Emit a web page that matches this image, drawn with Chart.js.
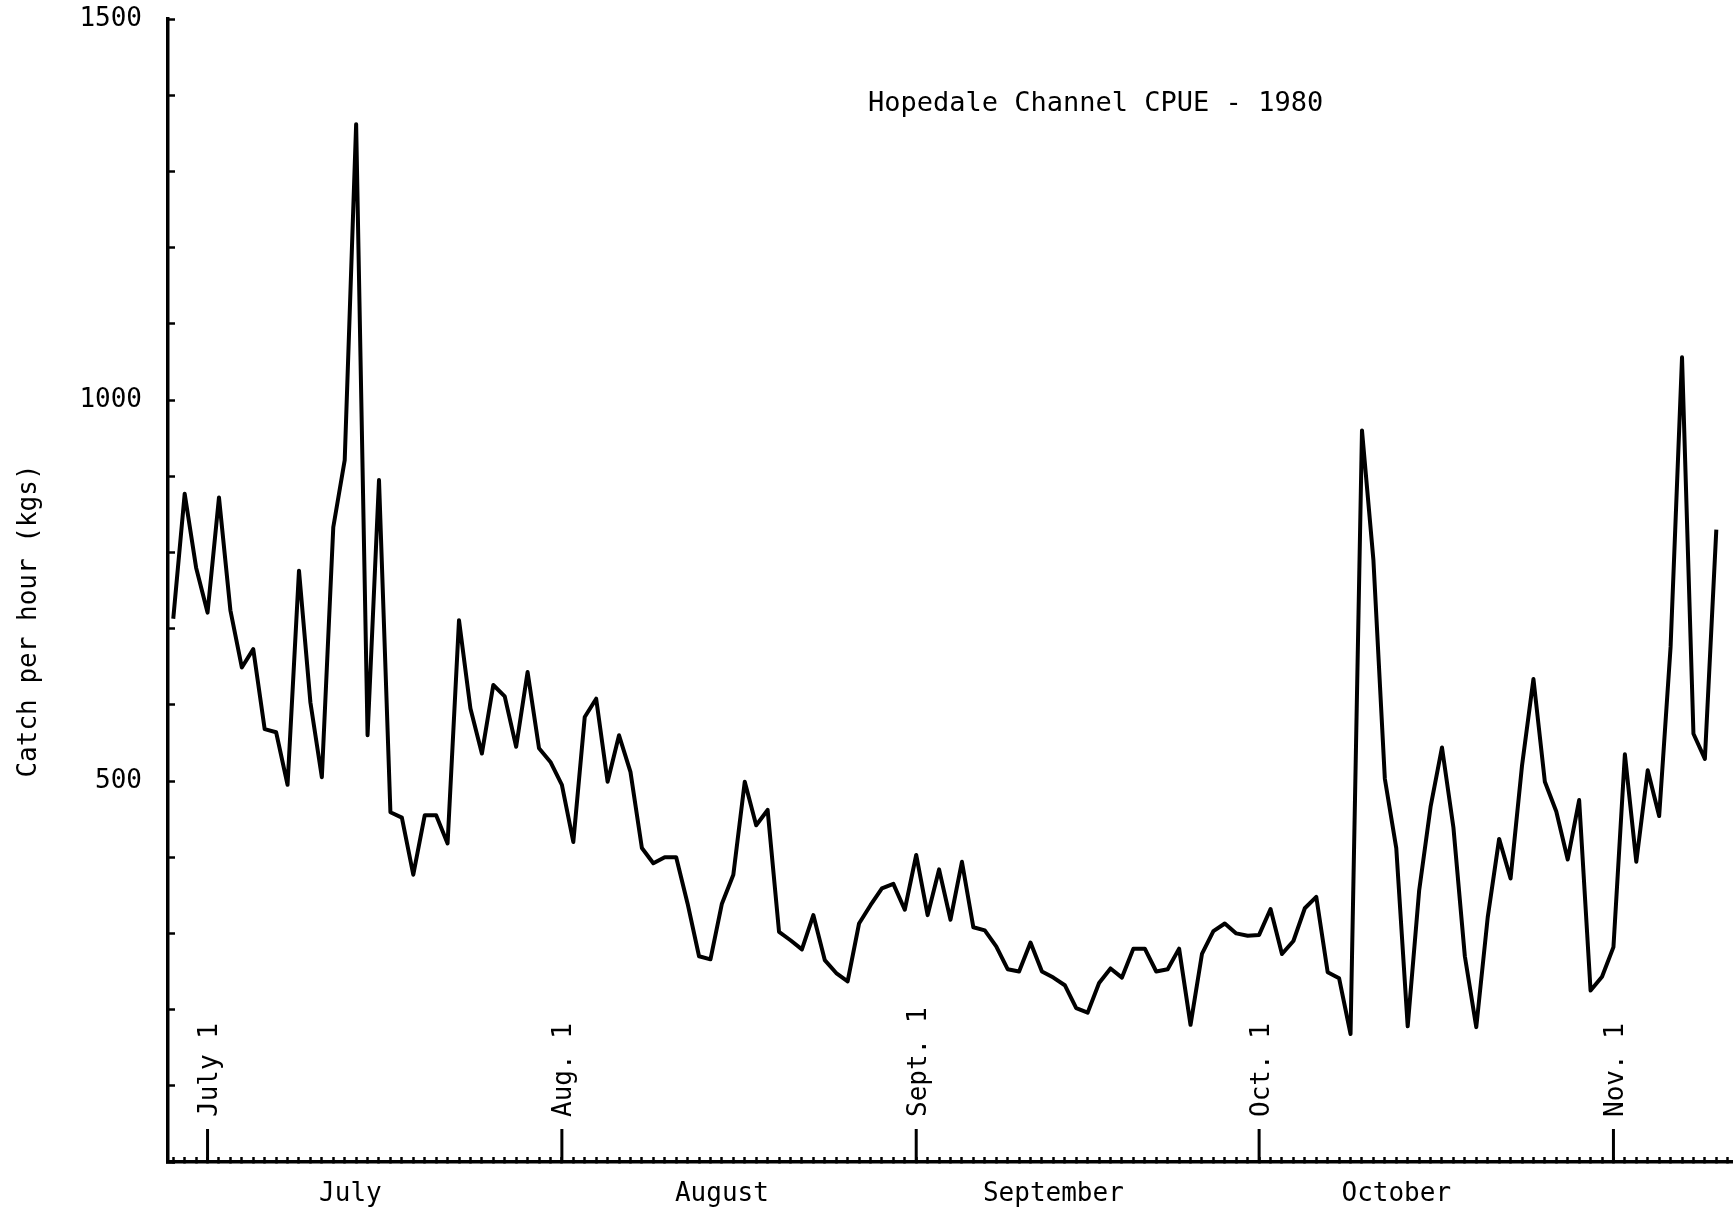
<!DOCTYPE html>
<html>
<head>
<meta charset="utf-8">
<title>Hopedale Channel CPUE - 1980</title>
<script src="https://cdn.jsdelivr.net/npm/chart.js@4.4.1/dist/chart.umd.min.js"></script>
<style>
  html, body { margin: 0; padding: 0; background: #ffffff; }
  #wrap { width: 1733px; height: 1212px; position: relative; }
  canvas { display: block; }
</style>
</head>
<body>
<div id="wrap"><canvas id="cpueChart" width="1733" height="1212"></canvas></div>
<script>
// Daily catch per unit effort (kg per hour), Hopedale Channel, 1980.
// Day numbers count from July 1 (= 0); the series opens on June 28.
const firstDay = -3;
const cpue = [
  713, 877, 780, 721, 872, 724, 649, 673, 568, 564,
  495, 776, 603, 505, 833, 921, 1362, 560, 895, 459,
  452, 377, 455, 455, 418, 711, 595, 536, 626, 611,
  545, 643, 543, 525, 495, 420, 584, 608, 499, 560,
  512, 412, 392, 400, 400, 339, 270, 266, 339, 377,
  499, 442, 462, 302, 291, 279, 324, 265, 248, 237,
  313, 337, 359, 365, 331, 403, 324, 384, 318, 394,
  308, 304, 283, 253, 250, 288, 250, 242, 232, 202,
  196, 235, 254, 242, 280, 280, 250, 253, 280, 180,
  273, 303, 313, 300, 297, 298, 332, 273, 290, 333,
  348, 249, 241, 168, 960, 790, 503, 412, 178, 356,
  466, 544, 439, 270, 177, 321, 424, 372, 520, 634,
  499, 460, 397, 475, 225, 243, 282, 535, 394, 514,
  454, 676, 1056, 562, 529, 830
];
const days = cpue.map((_, i) => firstDay + i);

// Calendar markers along the time axis
const monthStartDays = [0, 31, 62, 92, 123];
const monthStartLabels = ['July 1', 'Aug. 1', 'Sept. 1', 'Oct. 1', 'Nov. 1'];
const monthNameDays = [12.5, 45, 74, 104];
const monthNames = ['July', 'August', 'September', 'October'];

// Value axis
const yLabelValues = [500, 1000, 1500];

const chartTitle = 'Hopedale Channel CPUE - 1980';
const yTitle = 'Catch per hour (kgs)';

const FONT = '"DejaVu Sans Mono", "Liberation Mono", monospace';
const INK = '#000000';

// Month-start markers, the plot caption and the value-axis title
const annotate = {
  id: 'annotate',
  afterDraw(chart) {
    const { ctx, scales: { x, y } } = chart;
    const base = y.getPixelForValue(0);
    ctx.save();
    ctx.fillStyle = INK;
    ctx.strokeStyle = INK;
    ctx.lineWidth = 3;
    ctx.lineCap = 'butt';

    monthStartDays.forEach((d, i) => {
      const px = x.getPixelForValue(d);
      ctx.beginPath();
      ctx.moveTo(px, base);
      ctx.lineTo(px, base - 33);
      ctx.stroke();

      ctx.save();
      ctx.translate(px + 9.5, base - 45);
      ctx.rotate(-Math.PI / 2);
      ctx.font = '26px ' + FONT;
      ctx.textAlign = 'left';
      ctx.textBaseline = 'alphabetic';
      ctx.fillText(monthStartLabels[i], 0, 0);
      ctx.restore();
    });

    ctx.font = '27px ' + FONT;
    ctx.textAlign = 'left';
    ctx.textBaseline = 'alphabetic';
    ctx.fillText(chartTitle, 868, 111);

    ctx.save();
    ctx.translate(36, 621);
    ctx.rotate(-Math.PI / 2);
    ctx.font = '26px ' + FONT;
    ctx.textAlign = 'center';
    ctx.fillText(yTitle, 0, 0);
    ctx.restore();

    ctx.restore();
  }
};

new Chart(document.getElementById('cpueChart'), {
  type: 'line',
  data: {
    datasets: [{
      label: 'CPUE',
      data: days.map((d, i) => ({ x: d, y: cpue[i] })),
      borderColor: INK,
      borderWidth: 4,
      borderJoinStyle: 'round',
      pointRadius: 0,
      tension: 0,
      fill: false
    }]
  },
  options: {
    responsive: false,
    devicePixelRatio: 1,
    animation: false,
    layout: { padding: { top: 19, left: 0, right: 0, bottom: 0 } },
    plugins: {
      legend: { display: false },
      tooltip: { enabled: false },
      title: { display: false }
    },
    scales: {
      x: {
        type: 'linear',
        min: -3.46,
        max: 133.46,
        border: { display: true, color: INK, width: 3.5 },
        grid: {
          drawOnChartArea: false,
          drawTicks: true,
          tickLength: -5,
          tickWidth: 2.5,
          tickColor: (c) => (c.tick && Number.isInteger(c.tick.value)) ? INK : 'rgba(0,0,0,0)'
        },
        afterBuildTicks(scale) {
          const vals = new Set();
          for (let d = Math.ceil(scale.min); d <= scale.max; d++) vals.add(d);
          monthNameDays.forEach(v => vals.add(v));
          scale.ticks = [...vals].sort((a, b) => a - b).map(v => ({ value: v }));
        },
        ticks: {
          autoSkip: false,
          maxRotation: 0,
          minRotation: 0,
          padding: 22,
          color: INK,
          font: { family: FONT, size: 26 },
          callback(v) {
            const i = monthNameDays.indexOf(v);
            return i >= 0 ? monthNames[i] : '';
          }
        },
        afterFit(scale) {
          scale.height = 50;
          scale.paddingLeft = 0;
          scale.paddingRight = 0;
        }
      },
      y: {
        type: 'linear',
        min: 0,
        max: 1500,
        border: { display: true, color: INK, width: 3.5 },
        grid: {
          drawOnChartArea: false,
          drawTicks: true,
          tickLength: -7,
          tickWidth: 2.5,
          tickColor: INK
        },
        ticks: {
          stepSize: 100,
          autoSkip: false,
          padding: 33,
          color: INK,
          font: { family: FONT, size: 26 },
          callback: (v) => yLabelValues.includes(v) ? String(v) : ''
        },
        afterFit(scale) {
          scale.width = 168;
          scale.paddingTop = 0;
          scale.paddingBottom = 0;
        }
      }
    }
  },
  plugins: [annotate]
});
</script>
</body>
</html>
